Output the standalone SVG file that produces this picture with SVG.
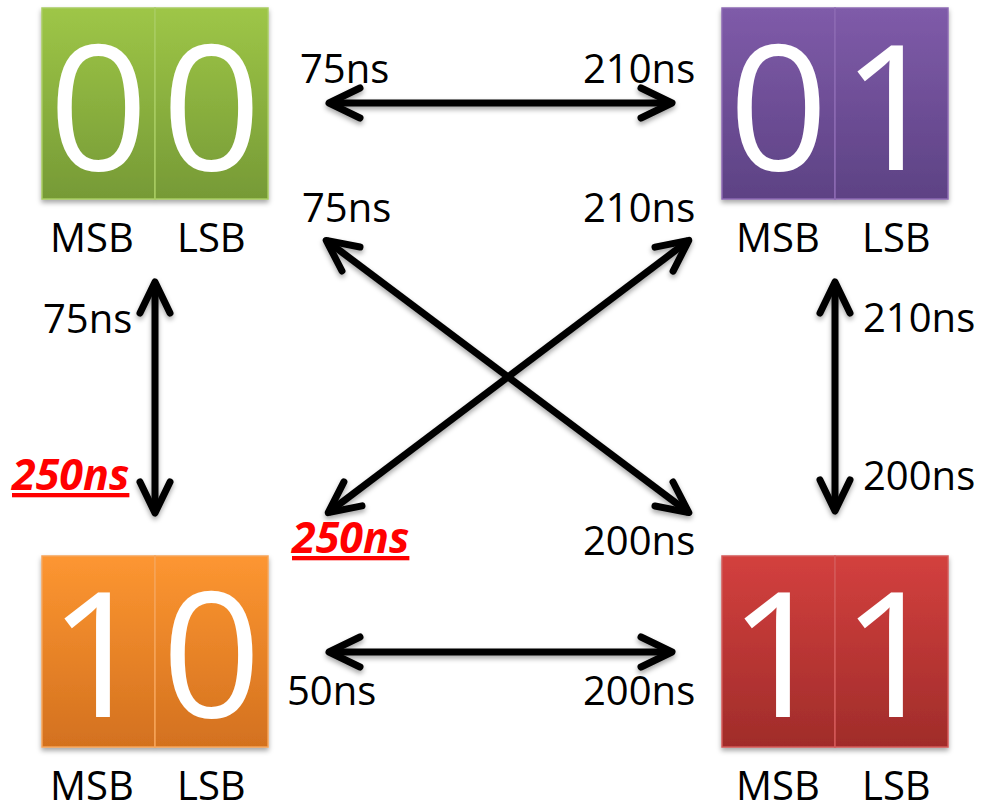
<svg xmlns="http://www.w3.org/2000/svg" width="983" height="806" viewBox="0 0 983 806">
<defs>
<style>
.dig{font-family:"Open Sans","Liberation Sans",sans-serif;font-size:174px;fill:#fff;text-anchor:middle}
.lbl{font-family:"Open Sans","Liberation Sans",sans-serif;font-size:40px;fill:#000}
.red{font-family:"Open Sans","Liberation Sans",sans-serif;font-size:43px;fill:#ff0000;font-weight:bold;font-style:italic;text-decoration:underline}
.arr{fill:none;stroke:#000;stroke-width:7;stroke-linecap:butt;marker-start:url(#head);marker-end:url(#head)}
.panel{stroke-width:1.5}
</style>
<linearGradient id="gG" x1="0" y1="0" x2="0" y2="1"><stop offset="0" stop-color="#9ec647"/><stop offset="1" stop-color="#769a36"/></linearGradient>
<linearGradient id="gP" x1="0" y1="0" x2="0" y2="1"><stop offset="0" stop-color="#7f5ba9"/><stop offset="1" stop-color="#5d4284"/></linearGradient>
<linearGradient id="gO" x1="0" y1="0" x2="0" y2="1"><stop offset="0" stop-color="#fd9631"/><stop offset="1" stop-color="#d3711f"/></linearGradient>
<linearGradient id="gR" x1="0" y1="0" x2="0" y2="1"><stop offset="0" stop-color="#d3403e"/><stop offset="1" stop-color="#a02c2a"/></linearGradient>
<filter id="sh" x="-20%" y="-20%" width="140%" height="140%"><feDropShadow dx="0" dy="3" stdDeviation="2.5" flood-color="#000" flood-opacity="0.35"/></filter>
<marker id="head" markerUnits="userSpaceOnUse" markerWidth="60" markerHeight="60" refX="0" refY="0" viewBox="-40 -30 50 60" orient="auto-start-reverse" overflow="visible">
<path d="M-31,-15 L0,0 L-31,15" fill="none" stroke="#000" stroke-width="7" stroke-linecap="round" stroke-linejoin="round"/>
</marker>
</defs>
<rect width="983" height="806" fill="#fff"/>

<g id="node-00">
<g filter="url(#sh)">
<rect class="panel" x="42" y="8" width="113" height="191" fill="url(#gG)" stroke="#a8cc62"/>
<rect class="panel" x="155" y="8" width="113" height="191" fill="url(#gG)" stroke="#a8cc62"/>
</g>
<text class="dig" x="98.5" y="170">0</text>
<text class="dig" x="211.5" y="170">0</text>
<text class="lbl" x="50" y="252">MSB</text>
<text class="lbl" x="177" y="252">LSB</text>
</g>

<g id="node-01">
<g filter="url(#sh)">
<rect class="panel" x="722" y="8" width="113" height="191" fill="url(#gP)" stroke="#8c6ab3"/>
<rect class="panel" x="835" y="8" width="113" height="191" fill="url(#gP)" stroke="#8c6ab3"/>
</g>
<text class="dig" x="778.5" y="170">0</text>
<text class="dig" x="891.5" y="170">1</text>
<text class="lbl" x="736" y="252">MSB</text>
<text class="lbl" x="862" y="252">LSB</text>
</g>

<g id="node-10">
<g filter="url(#sh)">
<rect class="panel" x="42" y="556" width="113" height="191" fill="url(#gO)" stroke="#f6a458"/>
<rect class="panel" x="155" y="556" width="113" height="191" fill="url(#gO)" stroke="#f6a458"/>
</g>
<text class="dig" x="98.5" y="717">1</text>
<text class="dig" x="211.5" y="717">0</text>
<text class="lbl" x="50" y="800">MSB</text>
<text class="lbl" x="177" y="800">LSB</text>
</g>

<g id="node-11">
<g filter="url(#sh)">
<rect class="panel" x="722" y="556" width="113" height="191" fill="url(#gR)" stroke="#d45a58"/>
<rect class="panel" x="835" y="556" width="113" height="191" fill="url(#gR)" stroke="#d45a58"/>
</g>
<text class="dig" x="778.5" y="717">1</text>
<text class="dig" x="891.5" y="717">1</text>
<text class="lbl" x="736" y="800">MSB</text>
<text class="lbl" x="862" y="800">LSB</text>
</g>

<g id="connectors" filter="url(#sh)">
<path class="arr" d="M329,103 L672,103"/>
<path class="arr" d="M329,652 L672,652"/>
<path class="arr" d="M155,282 L155,513"/>
<path class="arr" d="M835,282 L835,511"/>
<path class="arr" d="M326.2,240.4 L688.8,512.6"/>
<path class="arr" d="M688.8,240.4 L328.2,512.6"/>
</g>

<g id="labels">
<text class="lbl" x="300" y="83">75ns</text>
<text class="lbl" x="583" y="83">210ns</text>
<text class="lbl" x="302" y="222">75ns</text>
<text class="lbl" x="583" y="222">210ns</text>
<text class="lbl" x="43" y="333">75ns</text>
<text class="red" x="12" y="490">250ns</text>
<text class="red" x="292" y="553">250ns</text>
<text class="lbl" x="583" y="555">200ns</text>
<text class="lbl" x="863" y="332">210ns</text>
<text class="lbl" x="863" y="490">200ns</text>
<text class="lbl" x="287" y="705">50ns</text>
<text class="lbl" x="583" y="705">200ns</text>
</g>
</svg>
